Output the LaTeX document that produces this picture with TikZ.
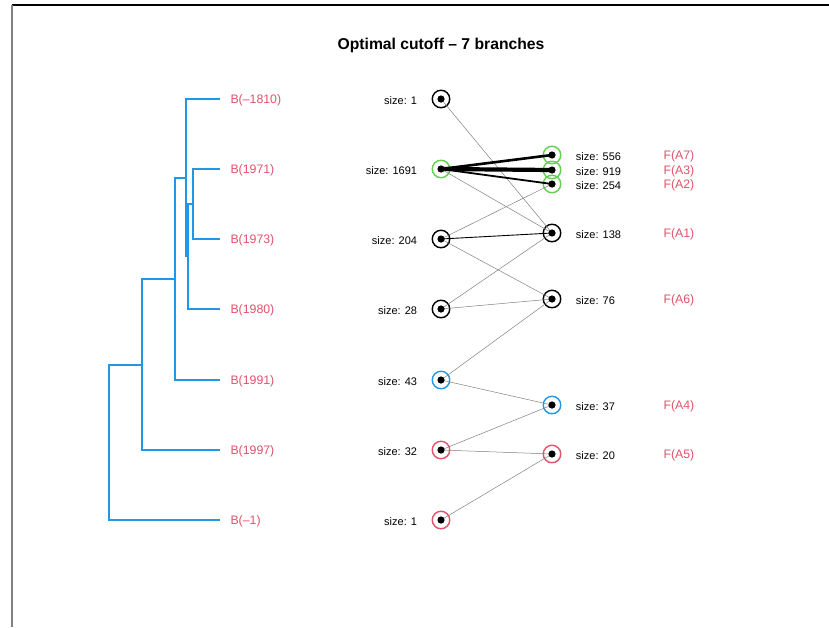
\documentclass[tikz,border=0pt]{standalone}
\usepackage{fontspec}
\setmainfont{Liberation Sans}
\usetikzlibrary{positioning}
\definecolor{treeblue}{HTML}{2297E6}
\definecolor{labred}{HTML}{DF536B}
\definecolor{grpgreen}{HTML}{61D04F}

\begin{document}
\begin{tikzpicture}[x=1pt, y=-1pt, font=\fontsize{11}{13}\selectfont,
  ring/.style = {draw, circle, line width=1.4pt, minimum size=17.5pt, inner sep=0pt},
  tree/.style = {treeblue, line width=1.4pt},
  link/.style = {gray, line width=0.5pt},
  lab/.style = {labred, anchor=west, font=\fontsize{12.3}{14}\selectfont}]
\useasboundingbox (0,0) rectangle (829,627);
\draw[line width=1.5pt] (12,5) -- (829,5);
\draw[gray, line width=2pt] (12,5) -- (12,627);

\node[font=\bfseries\fontsize{15.7}{18}\selectfont] (title) at (441,45) {Optimal cutoff – 7 branches};

% dendrogram
\node[lab] (b1) at (227,100)  {B(–1810)};
\node[lab] (b2) at (227,170) {B(1971)};
\node[lab] (b3) at (227,240) {B(1973)};
\node[lab] (b4) at (227,310) {B(1980)};
\node[lab] (b5) at (227,381) {B(1991)};
\node[lab] (b6) at (227,451) {B(1997)};
\node[lab] (b7) at (227,521) {B(–1)};

\draw[tree] (220,169) -| (193,239) -- (220,239);
\draw[tree] (193,204) -| (188,309) -- (220,309);
\draw[tree] (188,256) -| (186,99) -- (220,99);
\draw[tree] (186,178) -| (175,380) -- (220,380);
\draw[tree] (175,279) -| (142,450) -- (220,450);
\draw[tree] (142,365) -| (109,520) -- (220,520);

% left column
\node[ring] (l1) at (441,99) {};
\node[ring, draw=grpgreen] (l2) at (441,169) {};
\node[ring] (l3) at (441,239) {};
\node[ring] (l4) at (441,309) {};
\node[ring, draw=treeblue] (l5) at (441,380) {};
\node[ring, draw=labred] (l6) at (441,450) {};
\node[ring, draw=labred] (l7) at (441,520) {};

\node[left=11pt of l1, yshift=-1.5pt] {size: 1};
\node[left=11pt of l2, yshift=-1.5pt] {size: 1691};
\node[left=11pt of l3, yshift=-1.5pt] {size: 204};
\node[left=11pt of l4, yshift=-1.5pt] {size: 28};
\node[left=11pt of l5, yshift=-1.5pt] {size: 43};
\node[left=11pt of l6, yshift=-1.5pt] {size: 32};
\node[left=11pt of l7, yshift=-1.5pt] {size: 1};

% right column
\node[ring, draw=grpgreen] (r1) at (552,155) {};
\node[ring, draw=grpgreen] (r2) at (552,170) {};
\node[ring, draw=grpgreen] (r3) at (552,184) {};
\node[ring] (r4) at (552,233) {};
\node[ring] (r5) at (552,299) {};
\node[ring, draw=treeblue] (r6) at (552,405) {};
\node[ring, draw=labred] (r7) at (552,454) {};

\node[right=11pt of r1, yshift=-1.5pt] {size: 556};
\node[right=11pt of r2, yshift=-1.5pt] {size: 919};
\node[right=11pt of r3, yshift=-1.5pt] {size: 254};
\node[right=11pt of r4, yshift=-1.5pt] {size: 138};
\node[right=11pt of r5, yshift=-1.5pt] {size: 76};
\node[right=11pt of r6, yshift=-1.5pt] {size: 37};
\node[right=11pt of r7, yshift=-1.5pt] {size: 20};

\node[lab] (f1) at (660,156) {F(A7)};
\node[lab] (f2) at (660,171) {F(A3)};
\node[lab] (f3) at (660,185) {F(A2)};
\node[lab] (f4) at (660,234) {F(A1)};
\node[lab] (f5) at (660,300) {F(A6)};
\node[lab] (f6) at (660,406) {F(A4)};
\node[lab] (f7) at (660,455) {F(A5)};

% links
\draw[link] (l1.center) -- (r4.center);
\draw[line width=2.6pt] (l2.center) -- (r1.center);
\draw[line width=4.2pt] (l2.center) -- (r2.center);
\draw[line width=1.8pt] (l2.center) -- (r3.center);
\draw[link] (l2.center) -- (r4.center);
\draw[link] (l3.center) -- (r3.center);
\draw[line width=0.9pt] (l3.center) -- (r4.center);
\draw[link] (l3.center) -- (r5.center);
\draw[link] (l4.center) -- (r4.center);
\draw[link] (l4.center) -- (r5.center);
\draw[link] (l5.center) -- (r5.center);
\draw[link] (l5.center) -- (r6.center);
\draw[link] (l6.center) -- (r6.center);
\draw[link] (l6.center) -- (r7.center);
\draw[link] (l7.center) -- (r7.center);

% centre dots
\foreach \n in {l1,l2,l3,l4,l5,l6,l7,r1,r2,r3,r4,r5,r6,r7}
  \fill (\n.center) circle (3.6);
\end{tikzpicture}
\end{document}
